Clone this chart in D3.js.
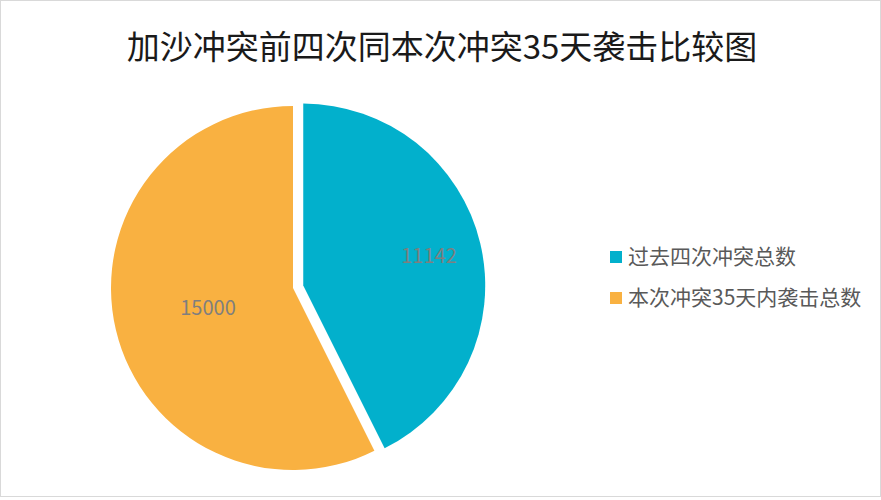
<!DOCTYPE html>
<html>
<head>
<meta charset="utf-8">
<script src="https://cdn.jsdelivr.net/npm/d3@7"></script>
<style>
  body { margin: 0; background: #fff; }
  text { font-family: "Noto Sans CJK SC", "Noto Sans", sans-serif; }
</style>
</head>
<body>
<svg id="chart" width="881" height="500"></svg>
<script>
var title = "加沙冲突前四次同本次冲突35天袭击比较图";
var categories = [ "过去四次冲突总数", "本次冲突35天内袭击总数" ];
var values = [ 11142, 15000 ];
var colors = [ "#02b0cc", "#f9b141" ];

var WIDTH = 881, HEIGHT = 500;
var CENTER = { x: 293, y: 288 };
var RADIUS = 182;
var EXPLODE = 10.5;
var LABEL_POS = [ 0.71, 0.48 ];

var svg = d3.select( "#chart" );

svg.append( "rect" )
  .attr( "x", 0.5 ).attr( "y", 0.5 )
  .attr( "width", WIDTH - 1 ).attr( "height", HEIGHT - 4 )
  .attr( "fill", "#fff" )
  .attr( "stroke", "#d9d9d9" );

svg.append( "text" )
  .attr( "x", 442 )
  .attr( "y", 59 )
  .attr( "text-anchor", "middle" )
  .attr( "font-size", 33 )
  .attr( "fill", "#1a1a1a" )
  .text( title );

var pie = d3.pie().sort( null ).value( function( d ){ return d; } );
var arc = d3.arc().innerRadius( 0 ).outerRadius( RADIUS );
var arcs = pie( values );

var g = svg.append( "g" )
  .attr( "transform", "translate(" + CENTER.x + "," + CENTER.y + ")" );

var slice = g.selectAll( ".slice" )
  .data( arcs )
  .enter()
  .append( "g" )
  .classed( "slice", true )
  .attr( "transform", function( d, i ){
    if( i != 0 ) return null;
    var mid = ( d.startAngle + d.endAngle ) / 2;
    return "translate(" + ( Math.sin( mid ) * EXPLODE ) + "," + ( -Math.cos( mid ) * EXPLODE ) + ")";
  } );

slice.append( "path" )
  .attr( "d", arc )
  .attr( "fill", function( d, i ){ return colors[ i ]; } );

slice.append( "text" )
  .attr( "transform", function( d, i ){
    var mid = ( d.startAngle + d.endAngle ) / 2;
    var r = RADIUS * LABEL_POS[ i ];
    return "translate(" + ( Math.sin( mid ) * r ) + "," + ( -Math.cos( mid ) * r ) + ")";
  } )
  .attr( "text-anchor", "middle" )
  .attr( "dy", "0.35em" )
  .attr( "font-size", 20 )
  .attr( "fill", "#7f7f7f" )
  .text( function( d ){ return d.data; } );

var legend = svg.append( "g" )
  .attr( "transform", "translate(610,257)" );

var item = legend.selectAll( ".item" )
  .data( categories )
  .enter()
  .append( "g" )
  .classed( "item", true )
  .attr( "transform", function( d, i ){ return "translate(0," + ( i * 41 ) + ")"; } );

item.append( "rect" )
  .attr( "x", 0 ).attr( "y", -6 )
  .attr( "width", 12 ).attr( "height", 12 )
  .attr( "fill", function( d, i ){ return colors[ i ]; } );

item.append( "text" )
  .attr( "x", 18 )
  .attr( "dy", "0.35em" )
  .attr( "font-size", 21 )
  .attr( "fill", "#595959" )
  .text( function( d ){ return d; } );
</script>
</body>
</html>
